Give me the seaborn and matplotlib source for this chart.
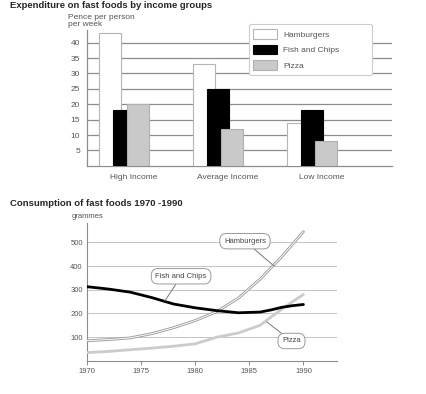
import numpy as np
import pandas as pd
import matplotlib
matplotlib.use("Agg")
import matplotlib.pyplot as plt
import seaborn as sns

# Dados: gastos por grupo de renda (pence por pessoa por semana)
grupos = ["High Income", "Average Income", "Low Income"]
hamburgers = [43, 33, 14]
fish_chips = [18, 25, 18]
pizza = [20, 12, 8]

# Dados: consumo (gramas) 1970-1990
anos = [1970, 1972, 1974, 1976, 1978, 1980, 1982, 1984, 1986, 1987, 1988, 1989, 1990]
cons_hamb = [85, 90, 97, 115, 140, 170, 208, 265, 345, 392, 440, 492, 545]
cons_fish = [313, 303, 290, 267, 240, 224, 212, 203, 206, 215, 226, 233, 238]
cons_pizza = [35, 40, 47, 54, 62, 72, 100, 118, 150, 185, 218, 250, 280]

sns.set_style("white")
plt.rcParams["font.family"] = ["Liberation Sans", "DejaVu Sans"]

fig = plt.figure(figsize=(4.26, 3.94), dpi=100)
ax1 = fig.add_axes([0.204, 0.579, 0.716, 0.344])
ax2 = fig.add_axes([0.204, 0.084, 0.587, 0.349])

txt = "#555555"
grade = "#8c8c8c"

# ---- gráfico de barras ----
pos = np.arange(len(grupos))
desl = 0.152
larg = 0.234
series = [
    ("Hamburgers", hamburgers, -desl, "white", "#b5b5b5"),
    ("Fish and Chips", fish_chips, 0.0, "black", "black"),
    ("Pizza", pizza, desl, "#c9c9c9", "#b0b0b0"),
]
for nome, vals, off, cor, borda in series:
    sns.barplot(x=pos + off, y=vals, native_scale=True, width=larg,
                color=cor, edgecolor=borda, linewidth=0.8, saturation=1,
                ax=ax1, label=nome, zorder=3)

ax1.set_xlim(-0.394, 2.85)
ax1.set_ylim(0, 44)
ax1.set_yticks(range(5, 45, 5))
ax1.set_xticks(pos + 0.1)
ax1.set_xticklabels(grupos)
ax1.set_axisbelow(True)
ax1.grid(axis="y", color=grade, linewidth=0.9)
ax1.grid(axis="x", visible=False)
for lado in ["top", "right"]:
    ax1.spines[lado].set_visible(False)
for lado in ["left", "bottom"]:
    ax1.spines[lado].set_color(grade)
    ax1.spines[lado].set_linewidth(0.9)
ax1.tick_params(axis="both", length=0, labelsize=6, labelcolor=txt)
ax1.tick_params(axis="y", pad=5)
ax1.tick_params(axis="x", pad=6)
ax1.set_xlabel("")
ax1.set_ylabel("")
ax1.text(-0.062, 1.12, "Pence per person\nper week", transform=ax1.transAxes,
         ha="left", va="top", fontsize=6, color=txt, linespacing=1.0)
leg = ax1.legend(loc="upper left", bbox_to_anchor=(0.531, 0.643, 0.403, 0.402),
                 mode="expand", fontsize=6,
                 frameon=True, fancybox=True, edgecolor="#cccccc",
                 handlelength=2.8, handleheight=1.45, labelspacing=0.7,
                 borderpad=0.55, handletextpad=0.8, borderaxespad=0)
leg.get_frame().set_linewidth(0.8)
leg.get_frame().set_alpha(1)
for t in leg.get_texts():
    t.set_color(txt)
leg.set_zorder(5)

fig.text(0.023, 1 - 6 / 394, "Expenditure on fast foods by income groups",
         fontsize=6.8, fontweight="bold", va="center", ha="left")

# ---- gráfico de linhas ----
df = pd.DataFrame({"ano": anos, "Hamburgers": cons_hamb,
                   "Fish and Chips": cons_fish, "Pizza": cons_pizza})
sns.lineplot(data=df, x="ano", y="Pizza", color="#cbcbcb", linewidth=2.0, ax=ax2, zorder=3)
sns.lineplot(data=df, x="ano", y="Hamburgers", color="#9a9a9a", linewidth=2.0, ax=ax2, zorder=3)
sns.lineplot(data=df, x="ano", y="Hamburgers", color="white", linewidth=0.7, ax=ax2, zorder=3)
sns.lineplot(data=df, x="ano", y="Fish and Chips", color="black", linewidth=2.0, ax=ax2, zorder=4)

ax2.set_xlim(1970, 1993.1)
ax2.set_ylim(0, 580)
ax2.set_xticks(range(1970, 1991, 5))
ax2.set_yticks(range(100, 501, 100))
ax2.set_axisbelow(True)
ax2.grid(axis="y", color="#c4c4c4", linewidth=0.7)
ax2.grid(axis="x", visible=False)
for lado in ["top", "right"]:
    ax2.spines[lado].set_visible(False)
for lado in ["left", "bottom"]:
    ax2.spines[lado].set_color(grade)
    ax2.spines[lado].set_linewidth(0.8)
ax2.tick_params(axis="y", length=0, labelsize=5.5, labelcolor=txt, pad=3)
ax2.tick_params(axis="x", length=3, width=0.7, color=grade, direction="out",
                labelsize=5.5, labelcolor=txt, pad=2, bottom=True)
ax2.set_xlabel("")
ax2.set_ylabel("")
ax2.text(-0.06, 1.047, "grammes", transform=ax2.transAxes, ha="left",
         va="center", fontsize=5.5, color=txt)

caixa = dict(boxstyle="round,pad=0.55,rounding_size=0.9", fc="white",
             ec="#9a9a9a", lw=0.7)
seta = dict(arrowstyle="-", color="#777777", lw=0.7, shrinkA=0, shrinkB=0)
ax2.annotate("Hamburgers", xy=(1987.3, 400), xytext=(1984.6, 505),
             fontsize=5.5, color="#444444", ha="center", va="center",
             bbox=caixa, arrowprops=seta, zorder=6)
ax2.annotate("Fish and Chips", xy=(1977.2, 253), xytext=(1978.7, 357),
             fontsize=5.5, color="#444444", ha="center", va="center",
             bbox=caixa, arrowprops=seta, zorder=6)
ax2.annotate("Pizza", xy=(1986.6, 165), xytext=(1988.9, 84),
             fontsize=5.5, color="#444444", ha="center", va="center",
             bbox=caixa, arrowprops=seta, zorder=6)

fig.text(0.023, 1 - 203 / 394, "Consumption of fast foods 1970 -1990",
         fontsize=6.8, fontweight="bold", va="center", ha="left")

fig.savefig("out.png", dpi=100)
